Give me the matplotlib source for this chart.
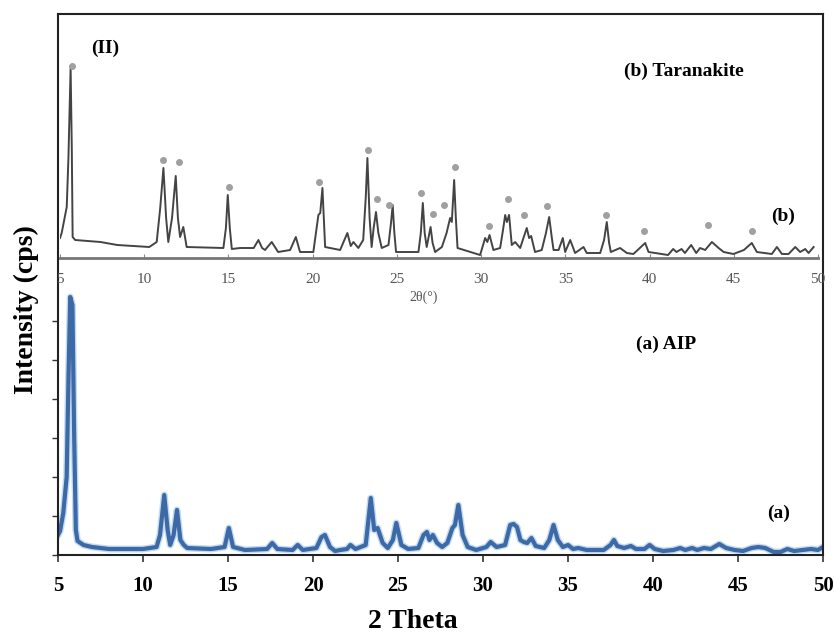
import matplotlib
matplotlib.use("Agg")
import matplotlib.pyplot as plt
import numpy as np

# ---------------- data ----------------
# (a) AIP : main panel, blue trace
alp_2theta = [5.0, 5.12, 5.31, 5.51, 5.62, 5.72, 5.85, 5.95, 6.05, 6.15, 6.5, 7.0, 8.0, 9.0, 10.0,
              10.8, 11.0, 11.25, 11.45, 11.6, 11.8, 12.0, 12.2, 12.4, 12.6, 14.0, 14.8, 15.05, 15.3,
              16.0, 17.3, 17.6, 17.9, 18.8, 19.1, 19.4, 20.2, 20.5, 20.7, 21.0, 21.3, 21.6, 22.0,
              22.2, 22.5, 23.1, 23.4, 23.6, 23.8, 24.1, 24.4, 24.7, 24.9, 25.2, 25.6, 26.2, 26.5,
              26.7, 26.85, 27.05, 27.3, 27.6, 27.9, 28.2, 28.35, 28.55, 28.8, 29.1, 29.6, 30.2,
              30.45, 30.8, 31.3, 31.6, 31.8, 32.0, 32.2, 32.4, 32.6, 32.85, 33.1, 33.6, 33.9, 34.15,
              34.4, 34.7, 35.0, 35.3, 35.6, 36.1, 36.6, 37.1, 37.5, 37.7, 37.9, 38.3, 38.7, 39.0,
              39.5, 39.8, 40.1, 40.6, 41.2, 41.6, 41.9, 42.3, 42.6, 43.0, 43.4, 43.9, 44.3, 44.8,
              45.3, 45.8, 46.2, 46.6, 47.1, 47.5, 47.9, 48.3, 48.8, 49.3, 49.7, 50.0]
alp_intensity = [20, 24, 42, 78, 180, 258, 250, 120, 25, 14, 10, 8, 6, 6, 6,
                 8, 20, 60, 25, 10, 20, 45, 15, 10, 7, 6, 8, 27, 8,
                 5, 6, 12, 6, 5, 10, 5, 7, 18, 20, 8, 4, 5, 6,
                 10, 6, 10, 57, 25, 27, 12, 7, 15, 32, 10, 6, 7, 20,
                 23, 15, 20, 12, 8, 12, 27, 30, 50, 20, 8, 5, 8,
                 13, 8, 10, 30, 31, 28, 15, 13, 12, 17, 9, 7, 15, 30,
                 15, 8, 10, 6, 7, 5, 5, 5, 10, 15, 9, 7, 9, 6,
                 6, 10, 6, 4, 5, 7, 5, 7, 5, 7, 6, 11, 7, 5,
                 4, 7, 8, 7, 3, 3, 6, 4, 5, 6, 5, 8]

# (b) Taranakite : inset, black trace
tar_2theta = [5.0, 5.1, 5.4, 5.5, 5.63, 5.7, 5.75, 5.9, 7.4, 8.4, 10.3, 10.74, 10.95, 11.14, 11.3,
              11.43, 11.65, 11.87, 12.0, 12.13, 12.32, 12.52, 14.7, 14.85, 14.96, 15.08, 15.2,
              15.69, 16.5, 16.78, 17.0, 17.17, 17.57, 17.95, 18.66, 19.0, 19.25, 20.04, 20.34,
              20.45, 20.58, 20.74, 21.63, 22.06, 22.26, 22.42, 22.71, 23.0, 23.15, 23.25, 23.38,
              23.5, 23.62, 23.76, 23.9, 24.1, 24.5, 24.65, 24.75, 24.85, 24.95, 26.28, 26.42,
              26.54, 26.65, 26.77, 27.0, 27.12, 27.27, 27.67, 27.95, 28.16, 28.26, 28.4, 28.5,
              28.6, 29.94, 30.24, 30.37, 30.5, 30.73, 31.13, 31.3, 31.43, 31.53, 31.66, 31.82,
              32.02, 32.32, 32.71, 32.85, 32.97, 33.2, 33.6, 33.85, 34.04, 34.2, 34.3, 34.6,
              34.85, 34.99, 35.29, 35.58, 36.08, 36.27, 37.07, 37.3, 37.46, 37.6, 37.7, 38.25,
              38.65, 39.04, 39.74, 39.94, 41.1, 41.4, 41.6, 41.9, 42.1, 42.47, 42.77, 43.0, 43.3,
              43.7, 44.1, 44.4, 44.98, 45.6, 46.07, 46.37, 47.26, 47.56, 47.86, 48.25, 48.65,
              48.94, 49.24, 49.44, 49.74]
tar_intensity = [20, 25, 51, 100, 190, 110, 21, 18, 16, 13, 11, 16, 50, 90, 40,
                 16, 40, 82, 40, 21, 31, 11, 10, 30, 63, 30, 9,
                 10, 10, 18, 10, 8, 16, 6, 8, 21, 6, 6, 43,
                 45, 70, 11, 8, 25, 12, 16, 10, 18, 60, 100, 40,
                 11, 30, 46, 25, 10, 13, 35, 53, 25, 6, 6, 25,
                 55, 25, 11, 31, 15, 6, 11, 25, 40, 36, 78, 40,
                 10, 3, 20, 16, 23, 8, 10, 28, 43, 36, 43, 13,
                 16, 10, 30, 20, 22, 6, 8, 25, 41, 20, 8, 8,
                 20, 6, 18, 5, 11, 5, 5, 18, 36, 15, 6, 10,
                 5, 4, 15, 6, 3, 9, 6, 9, 5, 13, 5, 10, 8,
                 16, 10, 6, 4, 8, 15, 6, 4, 11, 4, 4, 11,
                 6, 9, 5, 11]

# peak markers (dots) on the Taranakite trace
mark_2theta = [5.71, 11.12, 12.07, 15.04, 20.38, 23.29, 23.82, 24.54, 26.44, 27.15, 27.80,
               28.46, 30.47, 31.60, 32.55, 33.92, 37.42, 39.68, 43.48, 46.09]
mark_height = [192, 98, 96, 71, 76, 108, 59, 53, 65, 44, 53,
               91, 32, 59, 43, 52, 43, 27, 33, 27]

x_ticks = [5, 10, 15, 20, 25, 30, 35, 40, 45, 50]

# ---------------- figure ----------------
W, H = 835, 636
fig = plt.figure(figsize=(W / 100, H / 100), dpi=100)
serif = ["Liberation Serif", "DejaVu Serif"]

def fx(px):
    return px / W

def fy(py):
    return 1 - py / H

# main axes: x 58..823 px, y 14..555 px
ax = fig.add_axes([fx(58), fy(555), fx(823) - fx(58), fy(14) - fy(555)])
ax.plot(alp_2theta, alp_intensity, color="#9cc3ea", lw=5.0, solid_joinstyle="round", alpha=0.6)
ax.plot(alp_2theta, alp_intensity, color="#3d6aa6", lw=3.0, solid_joinstyle="round")
ax.set_xlim(5, 50)
ax.set_ylim(0, 541)
ax.set_xticks(x_ticks)
ax.set_xticklabels([str(t) for t in x_ticks], fontfamily=serif, fontweight="bold", fontsize=15)
ax.set_yticks([0, 39, 78, 117, 156, 195, 234])
ax.set_yticklabels([])
ax.tick_params(axis="x", direction="out", length=5, width=1.2, color="#333", pad=10)
ax.tick_params(axis="y", direction="out", length=4, width=1.0, color="#333")
for s in ax.spines.values():
    s.set_color("#222")
    s.set_linewidth(1.5)

fig.text(fx(413), fy(622), "2 Theta", fontfamily=serif, fontweight="bold", fontsize=20,
         ha="center", va="center")
fig.text(fx(26), fy(310), "Intensity (cps)", fontfamily=serif, fontweight="bold", fontsize=20,
         ha="center", va="center", rotation=90)

ax.text(fx(666), fy(344), "(a) AIP", transform=fig.transFigure, fontfamily=serif,
        fontweight="bold", fontsize=14, ha="center", va="center")
ax.text(fx(779), fy(513), "(a)", transform=fig.transFigure, fontfamily=serif,
        fontweight="bold", fontsize=14, ha="center", va="center")

# inset axes: x 60..818 px, y 14..258 px
ax2 = fig.add_axes([fx(60), fy(258), fx(818) - fx(60), fy(14) - fy(258)])
ax2.patch.set_alpha(0)
ax2.plot(tar_2theta, tar_intensity, color="#444444", lw=1.4)
ax2.plot(mark_2theta, mark_height, "o", color="#a0a0a0", ms=4, mec="#a0a0a0")
ax2.set_xlim(5, 50)
ax2.set_ylim(0, 244)
for side in ("top", "right", "left"):
    ax2.spines[side].set_visible(False)
ax2.spines["bottom"].set_color("#777")
ax2.spines["bottom"].set_linewidth(2.0)
ax2.set_xticks(x_ticks)
ax2.set_xticklabels([str(t) for t in x_ticks], fontfamily=serif, fontsize=11, color="#555")
ax2.tick_params(axis="x", direction="in", length=3, width=0.8, color="#888", pad=11)
ax2.set_yticks([])
fig.text(fx(424), fy(297), "2θ(°)", fontfamily=serif, fontsize=10, color="#555",
         ha="center", va="center")

ax2.text(fx(105), fy(48), "(II)", transform=fig.transFigure, fontfamily=serif,
         fontweight="bold", fontsize=14, ha="center", va="center")
ax2.text(fx(684), fy(71), "(b) Taranakite", transform=fig.transFigure, fontfamily=serif,
         fontweight="bold", fontsize=14, ha="center", va="center")
ax2.text(fx(783), fy(216), "(b)", transform=fig.transFigure, fontfamily=serif,
         fontweight="bold", fontsize=14, ha="center", va="center")

fig.savefig("out.png", dpi=100)
